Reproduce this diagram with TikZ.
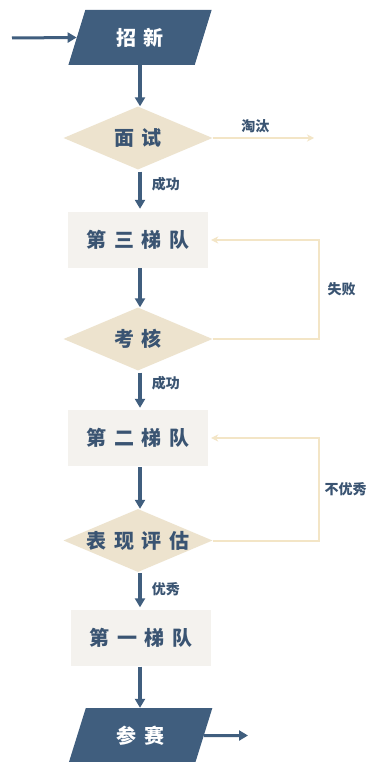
\documentclass[tikz,border=0pt]{standalone}
\usepackage{fontspec}
\newfontfamily\cjk{Noto Sans CJK SC}
\usetikzlibrary{shapes.geometric,arrows.meta}
\definecolor{navy}{RGB}{64,94,126}
\definecolor{textnavy}{RGB}{58,84,114}
\definecolor{beige}{RGB}{237,227,206}
\definecolor{pale}{RGB}{244,242,238}
\definecolor{fbline}{RGB}{243,229,198}
\newcommand{\gp}{\hspace{7.5pt}}
\begin{document}
\begin{tikzpicture}[x=1pt,y=-1pt,
  maintext/.style={font=\cjk\bfseries\fontsize{20}{20}\selectfont},
  lbl/.style={font=\cjk\bfseries\fontsize{14}{14}\selectfont, text=textnavy},
  para/.style={trapezium, trapezium left angle=69, trapezium right angle=111,
    trapezium stretches=true, minimum width=144pt, minimum height=55pt,
    inner sep=0pt, fill=navy, text=white, maintext},
  dia/.style={diamond, aspect=2.4, minimum width=149pt, minimum height=63pt,
    inner sep=0pt, fill=beige, text=textnavy, maintext},
  box/.style={rectangle, minimum width=140pt, minimum height=56pt,
    inner sep=0pt, fill=pale, text=textnavy, maintext},
  arr/.style={draw=navy, line width=3.6pt, -{Triangle[length=9pt,width=10pt]}},
  thinarr/.style={draw=navy, line width=3pt, -{Triangle[length=9pt,width=10pt]}},
  fb/.style={draw=fbline, line width=2pt, -{Stealth[length=7pt,width=7pt]}},
]
\useasboundingbox (0,0) rectangle (371,762);
\fill[white] (0,0) rectangle (371,762);

\node[para] (zx) at (140,37.5) {招\gp 新};
\node[dia]  (ms) at (138,138) {面\gp 试};
\node[box]  (r3) at (138,240) {第\gp 三\gp 梯\gp 队};
\node[dia]  (kh) at (138,339) {考\gp 核};
\node[box]  (r2) at (138,438) {第\gp 二\gp 梯\gp 队};
\node[dia]  (bx) at (138,540.5) {表\gp 现\gp 评\gp 估};
\node[box]  (r1) at (141,637.5) {第\gp 一\gp 梯\gp 队};
\node[para] (cs) at (140.5,735.5) {参\gp 赛};

\coordinate (in) at (12,38);
\coordinate (out) at (248,735.5);
\coordinate (tt) at (314,138);

\draw[thinarr] (in) -- (zx.west);
\draw[arr] (zx.south) -- (zx.south |- ms.north);
\draw[arr, shorten <=2pt, shorten >=3pt] (ms.south -| 140,0) -- (140,0 |- r3.north)
  node[lbl, pos=0.35, right, xshift=10pt, inner sep=0pt] {成功};
\draw[arr, shorten >=0pt] (140,0 |- r3.south) -- (140,0 |- kh.north);
\draw[arr, shorten <=2pt, shorten >=2pt] (140,0 |- kh.south) -- (140,0 |- r2.north)
  node[lbl, pos=0.33, right, xshift=10pt, inner sep=0pt] {成功};
\draw[arr, shorten <=1pt] (140,0 |- r2.south) -- (140,0 |- bx.north);
\draw[arr, shorten <=1pt, shorten >=2pt] (140,0 |- bx.south) -- (140,0 |- r1.north)
  node[lbl, pos=0.45, right, xshift=10pt, inner sep=0pt] {优秀};
\draw[arr, shorten <=1pt] (140,0 |- r1.south) -- (140,0 |- cs.north);
\draw[thinarr] (cs.east) -- (out);

\draw[fb, line width=2.6pt] (ms.east) -- (tt)
  node[lbl, pos=0.42, above, inner sep=4pt] {淘汰};
\draw[fb, shorten >=3pt] (kh.east) -- ++(106,0) |- (r3.east)
  node[lbl, pos=0.25, right, inner sep=8pt] {失败};
\draw[fb, shorten >=3pt] (bx.east) -- ++(106,0) |- (r2.east)
  node[lbl, pos=0.25, right, inner sep=5pt] {不优秀};
\end{tikzpicture}
\end{document}
